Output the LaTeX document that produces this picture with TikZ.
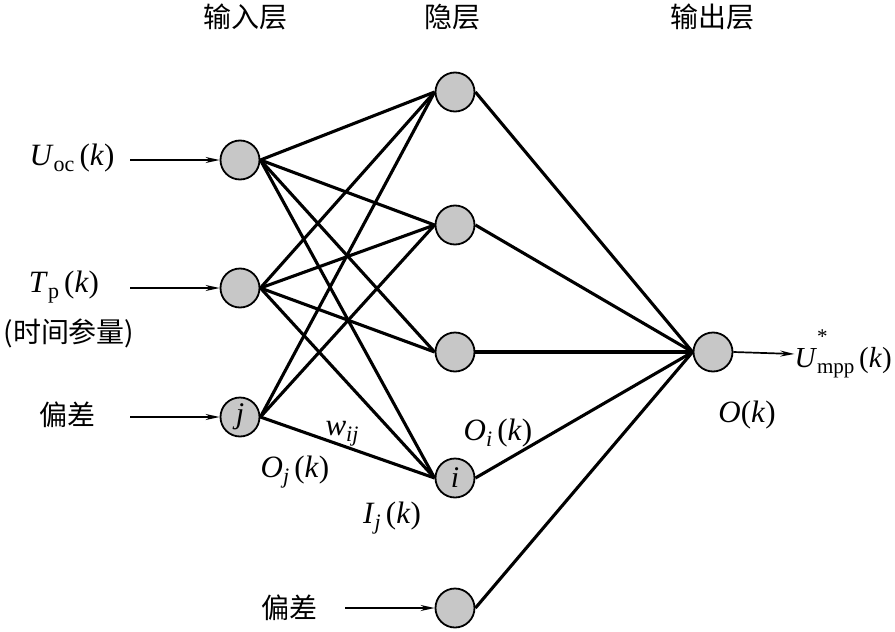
\documentclass[tikz,border=0pt]{standalone}
\usepackage{fontspec}
\setmainfont{Liberation Serif}
\newfontfamily\cjk{Noto Sans CJK SC}
\usetikzlibrary{arrows.meta}
\newcommand{\sbs}[1]{\raisebox{-0.45ex}{\fontsize{22}{22}\selectfont #1}}
\newcommand{\ital}[1]{\textit{#1}}
\begin{document}
\begin{tikzpicture}[x=1pt,y=-1pt,
  neuron/.style={circle,draw=black,line width=1.8pt,fill=black!22,minimum size=39pt,inner sep=0pt,font=\fontsize{30}{30}\selectfont\itshape},
  link/.style={line width=3.1pt},
  inarrow/.style={line width=1.7pt,-{Stealth[length=14pt,width=6pt]}},
  cjklab/.style={font=\cjk\fontsize{28}{28}\selectfont},
  mathlab/.style={font=\fontsize{31}{31}\selectfont,inner sep=0pt}]
\useasboundingbox (0,0) rectangle (895,632);
% headers
\node[cjklab] (h1) at (245,17) {输入层};
\node[cjklab] (h2) at (452,17) {隐层};
\node[cjklab] (h3) at (712,17) {输出层};
% neurons
\node[neuron] (x1) at (240,160) {};
\node[neuron] (x2) at (240,288) {};
\node[neuron] (x3) at (240,417) {j};
\node[neuron] (y1) at (455,92) {};
\node[neuron] (y2) at (455,225) {};
\node[neuron] (y3) at (455,352) {};
\node[neuron] (y4) at (455,478) {i};
\node[neuron] (y5) at (455,608) {};
\node[neuron] (o) at (713,352) {};
% input labels
\node[mathlab] (l1) at (72,158) {\ital{U}\sbs{oc}\,(\ital{k})};
\node[mathlab] (l2) at (64,287) {\ital{T}\sbs{p}\,(\ital{k})};
\node[cjklab,inner sep=0pt] (l2b) at (69,333) {(时间参量)};
\node[cjklab,inner sep=0pt] (l3) at (67,415) {偏差};
\node[cjklab,inner sep=0pt] (l4) at (289,608) {偏差};
\coordinate (a1) at (130,160);
\coordinate (a2) at (130,288);
\coordinate (a3) at (130,417);
\coordinate (a4) at (345,608);
\draw[inarrow] (a1) -- (x1.west);
\draw[inarrow] (a2) -- (x2.west);
\draw[inarrow] (a3) -- (x3.west);
\draw[inarrow] (a4) -- (y5.west);
% output
\node[mathlab,anchor=east,font=\fontsize{29}{29}\selectfont] (lo) at (892,354) {\ital{U}\raisebox{-0.45ex}{\rlap{\raisebox{2.3ex}{\fontsize{21}{21}\selectfont *}}\fontsize{21}{21}\selectfont mpp}\,(\ital{k})};
\draw[inarrow] (o.east) -- (lo.west);
\node[mathlab] (ok) at (747,415) {\ital{O}(\ital{k})};
% connections
\foreach \a in {x1,x2}{\foreach \b in {y1,y2,y3,y4}{\draw[link] (\a.east) -- (\b.west);}}
\foreach \b in {y1,y2,y4}{\draw[link] (x3.east) -- (\b.west);}
\foreach \b in {y1,y2,y3,y4,y5}{\draw[link] (\b.east) -- (o.west);}
% labels
\node[mathlab] (w) at (342,434) {\ital{w}\sbs{\itshape ij}};
\node[mathlab] (oj) at (295,472) {\ital{O}\sbs{\itshape j}\,(\ital{k})};
\node[mathlab] (oi) at (498,433) {\ital{O}\sbs{\itshape i}\,(\ital{k})};
\node[mathlab] (ij) at (392,518) {\ital{I}\sbs{\itshape j}\,(\ital{k})};
\end{tikzpicture}
\end{document}
